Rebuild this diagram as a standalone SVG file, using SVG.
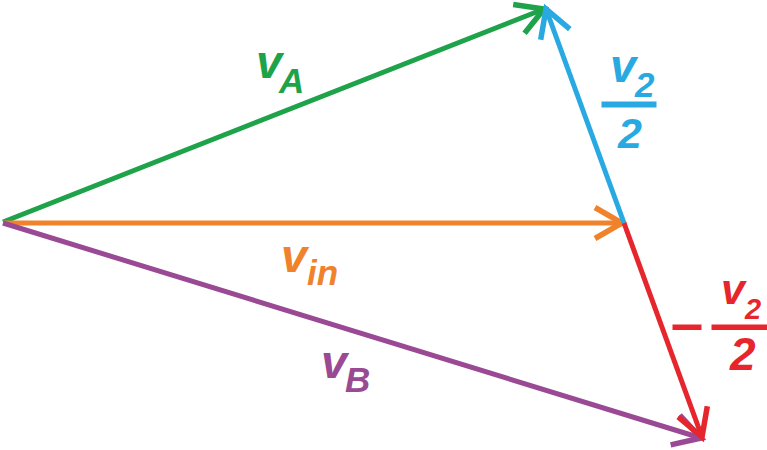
<svg xmlns="http://www.w3.org/2000/svg" width="767" height="450" viewBox="0 0 767 450">
<style>
.vec{fill:none;stroke-width:5;stroke-linecap:butt}
.lbl{font-family:"Liberation Sans",Arial,sans-serif;font-weight:bold;font-style:italic}
.g{stroke:#1fa34a;fill:#1fa34a}
.b{stroke:#29a9e1;fill:#29a9e1}
.o{stroke:#f0822c;fill:#f0822c}
.r{stroke:#e6262c;fill:#e6262c}
.p{stroke:#9a4a95;fill:#9a4a95}
text.g,text.b,text.o,text.r,text.p{stroke:none}
.head{fill:none;stroke-width:5.5;stroke-linejoin:miter;stroke-miterlimit:10}
</style>
<defs>
<marker id="mg" markerUnits="userSpaceOnUse" viewBox="-40 -25 50 50" refX="0" refY="0" markerWidth="50" markerHeight="50" orient="auto" overflow="visible"><path class="head" d="M-27,-15.5 L0,0 L-27,15.5" stroke="#1fa34a"/></marker>
<marker id="mb" markerUnits="userSpaceOnUse" viewBox="-40 -25 50 50" refX="0" refY="0" markerWidth="50" markerHeight="50" orient="auto" overflow="visible"><path class="head" d="M-27,-15.5 L0,0 L-27,15.5" stroke="#29a9e1"/></marker>
<marker id="mo" markerUnits="userSpaceOnUse" viewBox="-40 -25 50 50" refX="0" refY="0" markerWidth="50" markerHeight="50" orient="auto" overflow="visible"><path class="head" d="M-27,-15.5 L0,0 L-27,15.5" stroke="#f0822c"/></marker>
<marker id="mr" markerUnits="userSpaceOnUse" viewBox="-40 -25 50 50" refX="0" refY="0" markerWidth="50" markerHeight="50" orient="auto" overflow="visible"><path class="head" d="M-27,-15.5 L0,0 L-27,15.5" stroke="#e6262c"/></marker>
<marker id="mp" markerUnits="userSpaceOnUse" viewBox="-40 -25 50 50" refX="0" refY="0" markerWidth="50" markerHeight="50" orient="auto" overflow="visible"><path class="head" d="M-27,-15.5 L0,0 L-27,15.5" stroke="#9a4a95"/></marker>
</defs>
<rect width="767" height="450" fill="#ffffff"/>
<g id="connectors">
<line id="vA" class="vec g" x1="3" y1="222" x2="544" y2="9" marker-end="url(#mg)"/>
<line id="vin" class="vec o" x1="3" y1="223" x2="622" y2="223" marker-end="url(#mo)"/>
<line id="vB" class="vec p" x1="3" y1="223" x2="701" y2="438" marker-end="url(#mp)"/>
<line id="v2half" class="vec b" x1="624" y1="223" x2="546" y2="9" marker-end="url(#mb)"/>
<line id="negv2half" class="vec r" x1="624" y1="223" x2="702" y2="437" marker-end="url(#mr)"/>
</g>
<g id="label-vA">
<text class="lbl g" x="256" y="78" font-size="47">v</text>
<text class="lbl g" x="279" y="93" font-size="35">A</text>
</g>
<g id="label-vin">
<text class="lbl o" x="281" y="272" font-size="47">v</text>
<text class="lbl o" x="307" y="285" font-size="35">in</text>
</g>
<g id="label-vB">
<text class="lbl p" x="321" y="378" font-size="47">v</text>
<text class="lbl p" x="345" y="392" font-size="35">B</text>
</g>
<g id="label-v2half">
<text class="lbl b" x="610" y="82" font-size="47">v</text>
<text class="lbl b" x="635" y="97" font-size="35">2</text>
<rect class="b" x="602" y="102" width="54" height="5" stroke="none"/>
<text class="lbl b" x="618" y="148" font-size="43">2</text>
</g>
<g id="label-negv2half">
<rect class="r" x="673" y="325" width="28" height="4.5" stroke="none"/>
<text class="lbl r" x="721" y="304" font-size="43">v</text>
<text class="lbl r" x="745" y="319" font-size="29">2</text>
<rect class="r" x="712" y="325" width="55" height="4.5" stroke="none"/>
<text class="lbl r" x="730" y="370" font-size="46">2</text>
</g>
</svg>
